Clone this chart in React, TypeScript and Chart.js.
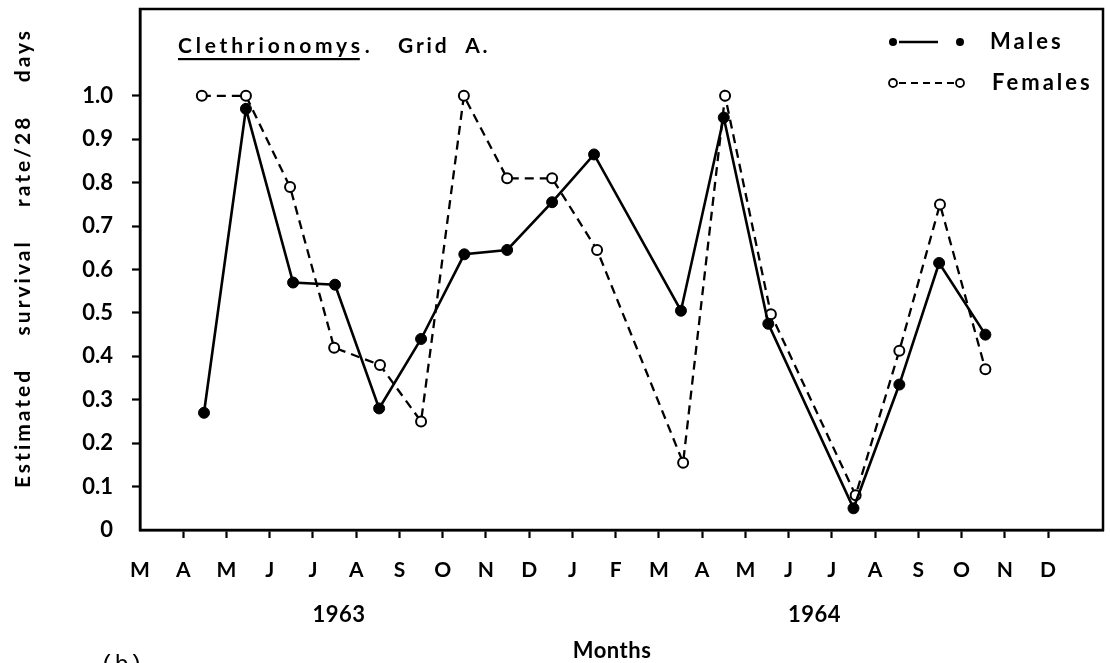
import React, { useEffect, useRef } from 'react';
import { Chart, registerables } from 'chart.js';

Chart.register(...registerables);

// Month tick labels, March 1963 .. December 1964 (index 0 = March 1963)
const monthLabels = ['M', 'A', 'M', 'J', 'J', 'A', 'S', 'O', 'N', 'D', 'J', 'F', 'M', 'A', 'M', 'J', 'J', 'A', 'S', 'O', 'N', 'D'];
const yearLabels = ['1963', '1964'];
const yearAt = [4.6, 15.6]; // month index under which each year label is centred

// Sampling dates (month index) and estimated survival rate / 28 days
const maleMonth = [1.48, 2.45, 3.54, 4.51, 5.53, 6.5, 7.5, 8.49, 9.53, 10.5, 12.51, 13.5, 14.53, 16.5, 17.56, 18.48, 19.55];
const maleRate = [0.27, 0.97, 0.57, 0.565, 0.28, 0.44, 0.635, 0.645, 0.755, 0.865, 0.505, 0.95, 0.475, 0.05, 0.335, 0.615, 0.45];
const femaleMonth = [1.43, 2.45, 3.47, 4.49, 5.55, 6.5, 7.49, 8.49, 9.53, 10.57, 12.56, 13.53, 14.59, 16.55, 17.56, 18.5, 19.55];
const femaleRate = [1.0, 1.0, 0.79, 0.42, 0.38, 0.25, 1.0, 0.81, 0.81, 0.645, 0.155, 1.0, 0.497, 0.08, 0.413, 0.75, 0.37];

const FONT = 'Lato, "Noto Sans", "DejaVu Sans", sans-serif';

const zeroPadding = (s: any) => {
  s.paddingTop = 0;
  s.paddingBottom = 0;
  s.paddingLeft = 0;
  s.paddingRight = 0;
};

export default function App() {
  const ref = useRef<HTMLCanvasElement>(null);

  useEffect(() => {
    const canvas = ref.current!;
    const overlay = {
      id: 'overlay',
      afterDraw(chart: any) {
        const ctx = chart.ctx as CanvasRenderingContext2D;
        const a = chart.chartArea;
        const xs = chart.scales.x;
        ctx.save();
        // frame
        ctx.strokeStyle = '#000';
        ctx.lineWidth = 2.5;
        ctx.strokeRect(a.left, a.top, a.right - a.left, a.bottom - a.top);
        ctx.fillStyle = '#000';
        // title
        ctx.font = `bold 21px ${FONT}`;
        (ctx as any).letterSpacing = '3.8px';
        ctx.textBaseline = 'middle';
        ctx.textAlign = 'left';
        const t1 = 'Clethrionomys';
        ctx.fillText(t1, 178, 46);
        const w1 = ctx.measureText(t1).width;
        ctx.fillRect(178, 58, w1 - 4, 2.2);
        ctx.fillText('.', 178 + w1 + 1, 46);
        (ctx as any).letterSpacing = '2.8px';
        ctx.fillText('Grid  A.', 398, 46);
        // legend
        ctx.font = `bold 22px ${FONT}`;
        (ctx as any).letterSpacing = '3px';
        ctx.fillText('Males', 990, 42);
        ctx.fillText('Females', 992, 83);
        ctx.lineWidth = 2.6;
        ctx.beginPath(); ctx.moveTo(899, 42); ctx.lineTo(938, 42); ctx.stroke();
        ctx.beginPath(); ctx.arc(893, 42, 4, 0, Math.PI * 2); ctx.fill();
        ctx.beginPath(); ctx.arc(960, 42, 4, 0, Math.PI * 2); ctx.fill();
        ctx.lineWidth = 2;
        ctx.setLineDash([7, 5]);
        ctx.beginPath(); ctx.moveTo(899, 83); ctx.lineTo(954, 83); ctx.stroke();
        ctx.setLineDash([]);
        ctx.lineWidth = 1.8;
        ctx.beginPath(); ctx.arc(893, 83, 4, 0, Math.PI * 2); ctx.stroke();
        ctx.beginPath(); ctx.arc(960, 83, 4, 0, Math.PI * 2); ctx.stroke();
        // years
        ctx.font = `bold 22px ${FONT}`;
        (ctx as any).letterSpacing = '0.5px';
        ctx.textAlign = 'center';
        yearLabels.forEach((y, i) => ctx.fillText(y, xs.getPixelForValue(yearAt[i]), 615));
        // x title
        ctx.fillText('Months', 612, 651);
        // y title
        ctx.save();
        ctx.translate(23, 258);
        ctx.rotate(-Math.PI / 2);
        ctx.font = `bold 21px ${FONT}`;
        (ctx as any).letterSpacing = '3px';
        ctx.fillText('Estimated    survival    rate/28    days', 0, 0);
        ctx.restore();
        // panel letter
        ctx.font = `24px "Liberation Mono", monospace`;
        (ctx as any).letterSpacing = '0px';
        ctx.textAlign = 'left';
        ctx.textBaseline = 'alphabetic';
        ctx.fillText('(b)', 100, 672);
        ctx.restore();
      },
    };

    const chart = new Chart(canvas, {
      type: 'line',
      data: {
        datasets: [
          {
            label: 'Males',
            data: maleMonth.map((m, i) => ({ x: m, y: maleRate[i] })),
            borderColor: '#000',
            backgroundColor: '#000',
            borderWidth: 2.6,
            pointRadius: 5.5,
            pointBackgroundColor: '#000',
            pointBorderColor: '#000',
            pointBorderWidth: 1,
            tension: 0,
          },
          {
            label: 'Females',
            data: femaleMonth.map((m, i) => ({ x: m, y: femaleRate[i] })),
            borderColor: '#000',
            backgroundColor: '#fff',
            borderWidth: 2.3,
            borderDash: [9, 6],
            pointRadius: 5,
            pointBackgroundColor: '#fff',
            pointBorderColor: '#000',
            pointBorderWidth: 2,
            tension: 0,
          },
        ],
      },
      options: {
        responsive: false,
        animation: false,
        layout: { padding: { left: 0, top: 9, right: 7, bottom: 0 } },
        plugins: { legend: { display: false }, tooltip: { enabled: false }, title: { display: false } },
        scales: {
          x: {
            type: 'linear',
            min: 0,
            max: 22.27,
            afterBuildTicks: (s: any) => {
              s.ticks = monthLabels.map((_, i) => ({ value: i }));
            },
            afterFit: (s: any) => {
              s.height = 133;
              zeroPadding(s);
            },
            ticks: {
              autoSkip: false,
              maxRotation: 0,
              padding: 20,
              color: '#000',
              font: { family: FONT, size: 21, weight: 'bold' },
              callback: (v: any) => monthLabels[Math.round(Number(v))] ?? '',
            },
            grid: {
              drawOnChartArea: false,
              tickLength: 8,
              tickWidth: 2.2,
              tickColor: (c: any) => (c.index === 0 ? 'rgba(0,0,0,0)' : '#000'),
            },
            border: { display: true, color: '#000', width: 2.5 },
          },
          y: {
            type: 'linear',
            min: 0,
            max: 1.2,
            afterBuildTicks: (s: any) => {
              const t = [];
              for (let k = 0; k <= 20; k++) t.push({ value: k * 0.05 });
              s.ticks = t;
            },
            afterFit: (s: any) => {
              s.width = 140;
              zeroPadding(s);
            },
            ticks: {
              padding: 19,
              color: '#000',
              font: { family: FONT, size: 22, weight: 'bold' },
              callback: (v: any) => {
                const k = Math.round(Number(v) * 20);
                if (k % 2 !== 0) return '';
                if (k === 0) return '0';
                return (k / 20).toFixed(1);
              },
            },
            grid: {
              drawOnChartArea: false,
              tickLength: 8,
              tickWidth: 2.2,
              tickColor: (c: any) => (c.index === 0 ? 'rgba(0,0,0,0)' : '#000'),
            },
            border: { display: true, color: '#000', width: 2.5 },
          },
        },
      },
      plugins: [overlay],
    } as any);

    return () => chart.destroy();
  }, []);

  return (
    <div style={{ position: 'absolute', left: 0, top: 0, width: 1110, height: 663, background: '#fff' }}>
      <canvas ref={ref} width={1110} height={663} style={{ display: 'block' }} />
    </div>
  );
}
